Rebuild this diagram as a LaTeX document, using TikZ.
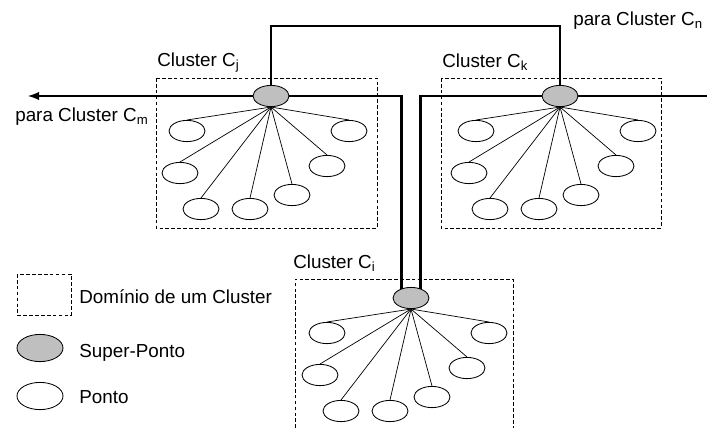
\documentclass[tikz,border=0pt]{standalone}
\usepackage{fontspec}
\setmainfont{Liberation Sans}
\usetikzlibrary{shapes,arrows,calc}

\tikzset{
  ponto/.style={draw, ellipse, minimum width=0.9cm, minimum height=0.53cm, inner sep=0pt, line width=0.6pt},
  superponto/.style={ponto, fill=gray!50},
  ligacao/.style={line width=1.7pt},
  aresta/.style={line width=0.5pt},
  dominio/.style={dash pattern=on 2.6pt off 1.6pt, line width=0.6pt},
  rotulo/.style={font=\fontsize{13.4}{16}\selectfont, inner sep=0pt, anchor=base west}
}

% pontos de um cluster em volta do seu super-ponto
\newcommand{\folhas}[1]{%
  \foreach \dx/\dy [count=\n] in {-84/35,-91/77,-70/113,-21/113,21/99,56/70,78/35}{
    \node[ponto] (#1-\n) at ($(#1)+(\dx,\dy)$) {};
    \draw[aresta] (#1.south) -- (#1-\n.north);
  }}

\begin{document}
\begin{tikzpicture}[x=0.025cm, y=-0.025cm]
  \useasboundingbox (0,0) rectangle (707,428);

  % dominios
  \draw[dominio] (156,78) rectangle (377,228);
  \draw[dominio] (441,78) rectangle (661,228);
  \draw[dominio] (295,428) -- (295,279) -- (513,279) -- (513,428);

  \node[rotulo] (lj) at (157,66) {Cluster C\textsubscript{j}};
  \node[rotulo] (lk) at (442,67) {Cluster C\textsubscript{k}};
  \node[rotulo] (li) at (293,268) {Cluster C\textsubscript{i}};

  % super-pontos
  \node[superponto] (sj) at (271,96) {};
  \node[superponto] (sk) at (560,96) {};
  \node[superponto] (si) at (411,298) {};

  \folhas{sj}
  \folhas{sk}
  \folhas{si}

  % ligacoes entre super-pontos
  \coordinate (topo) at (400,26);
  \coordinate (cm) at (28,96);
  \coordinate (cn) at (707,96);
  \draw[ligacao] (sj.north) |- (topo) -| (sk.north);
  \draw[ligacao] (sj.east) -| (si.135);
  \draw[ligacao] (sk.west) -| (si.45);
  \draw[ligacao] (sk.east) -- (cn);
  \draw[ligacao,-latex] (sj.west) -- (cm);

  \node[rotulo] (pm) at (15,121) {para Cluster C\textsubscript{m}};
  \node[rotulo] (pn) at (573,25) {para Cluster C\textsubscript{n}};

  % legenda
  \draw[dominio] (17,274) rectangle (71,315);
  \node[superponto, minimum width=1.15cm, minimum height=0.68cm] (lsp) at (40,348) {};
  \node[ponto, minimum width=1.15cm, minimum height=0.68cm] (lp) at (40,396) {};
  \node[rotulo] (ld) at (79,303) {Domínio de um Cluster};
  \node[rotulo] (lsptxt) at (79,357) {Super-Ponto};
  \node[rotulo] (lptxt) at (79,403) {Ponto};
\end{tikzpicture}
\end{document}
